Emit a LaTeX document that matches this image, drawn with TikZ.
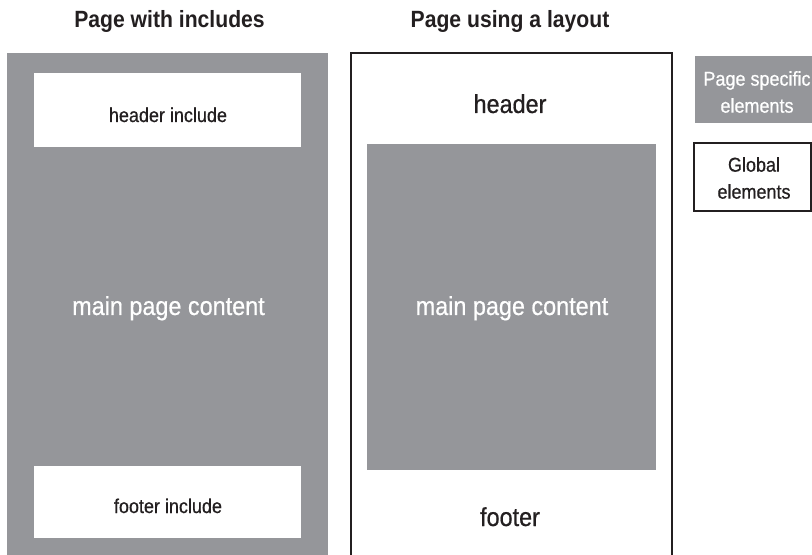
\documentclass[tikz,border=0pt]{standalone}
\usepackage{fontspec}
\newfontfamily\hv[FakeStretch=0.9,FakeBold=0.6]{Liberation Sans}
\newfontfamily\hvb[FakeStretch=0.9]{Liberation Sans Bold}
\definecolor{pagegray}{RGB}{149,150,154}
\definecolor{ink}{RGB}{35,31,32}
\begin{document}
\begin{tikzpicture}[x=1bp,y=-1bp,
  graybox/.style={fill=pagegray,draw=none,anchor=north west,inner sep=0pt,outer sep=0pt},
  whitebox/.style={fill=white,draw=none,anchor=north west,inner sep=0pt,outer sep=0pt},
  framebox/.style={draw=ink,line width=1.8bp,fill=none,anchor=north west,inner sep=0pt,outer sep=0pt},
  title/.style={anchor=base,inner sep=0pt,text=ink,font=\hvb\fontsize{23.5bp}{28bp}\selectfont},
  big/.style={anchor=base,inner sep=0pt,font=\hv\fontsize{26bp}{30bp}\selectfont},
  small/.style={anchor=base,inner sep=0pt,text=ink,font=\hv\fontsize{20bp}{24bp}\selectfont},
  legend/.style={anchor=center,inner sep=0pt,align=center,font=\hv\fontsize{20bp}{27bp}\selectfont}
]
\useasboundingbox (0,0) rectangle (812,555);
\fill[white] (0,0) rectangle (812,555);

% titles
\node[title] (t1) at (169.5,28) {Page with includes};
\node[title] (t2) at (510,28) {Page using a layout};

% page with includes
\node[graybox,minimum width=321bp,minimum height=510bp] (pageA) at (7,53) {};
\node[whitebox,minimum width=267bp,minimum height=74bp] (hdrA) at (34,73) {};
\node[whitebox,minimum width=267bp,minimum height=72bp] (ftrA) at (34,466) {};
\node[small] (hdrAtxt) at (168,122) {header include};
\node[small] (ftrAtxt) at (168,513) {footer include};
\node[big,text=white] (mainA) at (168.5,315) {main page content};

% page using a layout
\node[framebox,minimum width=321bp,minimum height=520bp] (pageB) at (351,53) {};
\node[graybox,minimum width=289bp,minimum height=326bp] (mainB) at (367,144) {};
\node[big,text=ink] (hdrB) at (510,113) {header};
\node[big,text=ink] (ftrB) at (510,526) {footer};
\node[big,text=white] (mainBtxt) at (512,315) {main page content};

% legend
\node[graybox,minimum width=130bp,minimum height=67bp] (legA) at (695,56) {};
\node[framebox,line width=1.5bp,minimum width=117bp,minimum height=68bp] (legB) at (694,143) {};
\node[legend,text=white] (legAtxt) at (757,92) {Page specific\\elements};
\node[legend,text=ink] (legBtxt) at (754,178) {Global\\elements};
\end{tikzpicture}
\end{document}
